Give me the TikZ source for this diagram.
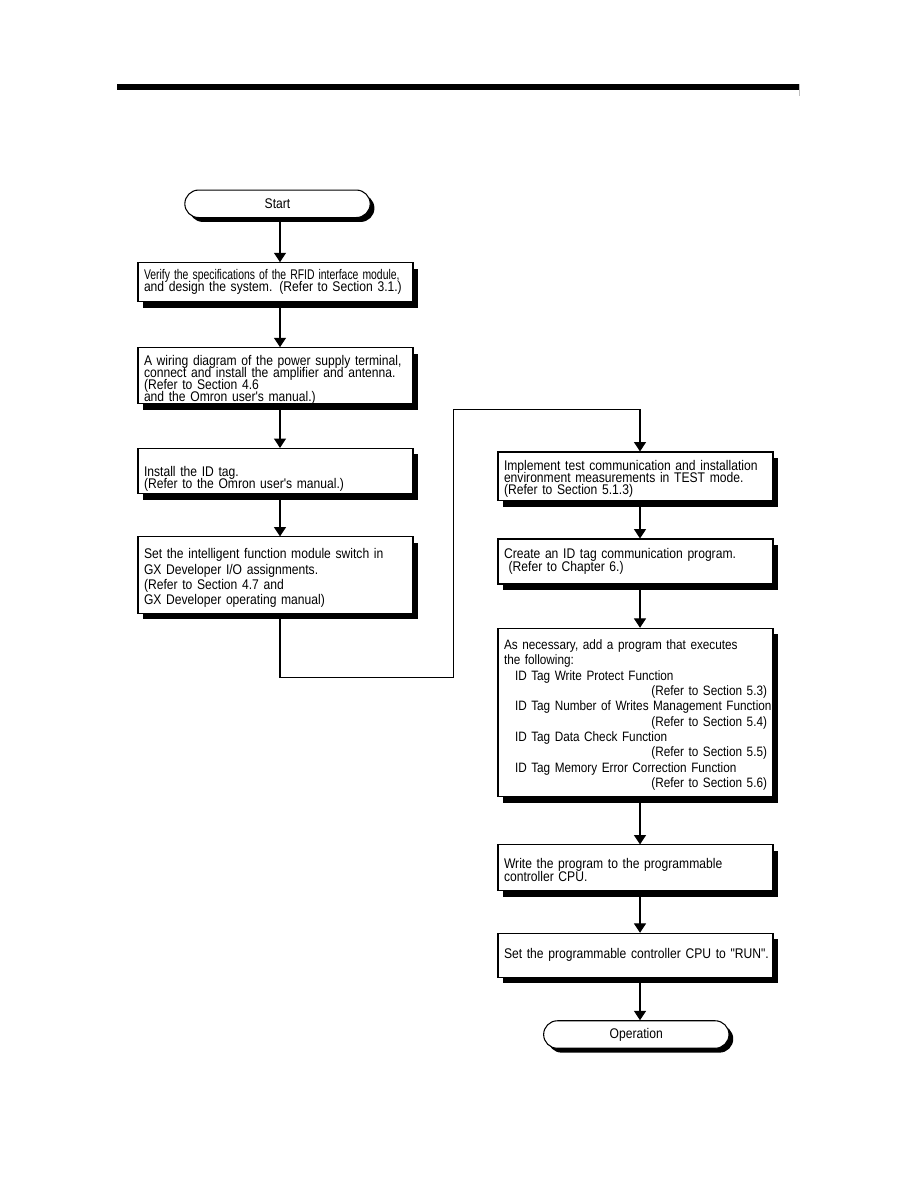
\documentclass[tikz,border=0pt]{standalone}
\usepackage{fontspec}
\setmainfont{Liberation Sans}[FakeStretch=0.865,Ligatures=TeXOff]
\usepackage{graphicx}
\usetikzlibrary{arrows.meta,shapes.misc,shadows}
\newcommand\tightlines{\lineskiplimit=-20pt\lineskip=0pt\relax}
\begin{document}
\begin{tikzpicture}[x=0.75pt,y=-0.75pt,
  box/.style={draw, fill=white, line width=0.8pt, rectangle, inner xsep=4.5pt, inner ysep=0pt,
    text width=197.25pt, align=left, minimum height=#1,
    execute at begin node=\tightlines,
    drop shadow={shadow xshift=3.75pt,shadow yshift=-4.5pt,opacity=1,fill=black}},
  term/.style={draw, fill=white, line width=0.8pt, rounded rectangle, minimum width=139pt,
    minimum height=20.6pt, inner sep=0pt, font=\fontsize{10.5}{12}\selectfont,
    drop shadow={shadow xshift=3.2pt,shadow yshift=-3.3pt,opacity=1,fill=black}},
  arr/.style={line width=0.8pt, -{Triangle[width=9pt,length=7pt]}},
  link/.style={line width=0.8pt}
]
\path[use as bounding box] (0,0) rectangle (918,1188);

% header bar
\fill[black] (117,84) rectangle (799,90);
\draw[gray!50, line width=0.8pt] (799.5,84) -- (799.5,96);

\coordinate (colL) at (280,0);
\coordinate (colR) at (640,0);

% terminals
\node[term] (start) at (277.5,203.8) {Start};
\node[term] (op) at (636.3,1034.5) {Operation};

% left column
\node[box=29.25pt, font=\fontsize{10.5}{9.2}\selectfont] (b1) at (275.5,282.2)
  {\scalebox{0.86}[1]{Verify the specifications of the RFID interface module,}\\
   \mbox{and design the system. (Refer to Section 3.1.)}};
\node[box=41.25pt, font=\fontsize{10.5}{9}\selectfont] (b2) at (275.5,375.8)
  {\rule{0pt}{13pt}\mbox{A wiring diagram of the power supply terminal,}\\
   \mbox{connect and install the amplifier and antenna.}\\
   (Refer to Section 4.6\\
   and the Omron user's manual.)};
\node[box=34.1pt, font=\fontsize{10.5}{9}\selectfont] (b3) at (275.5,471.2)
  {\rule{0pt}{18.5pt}Install the ID tag.\\
   (Refer to the Omron user's manual.)};
\node[box=57.4pt, font=\fontsize{10.5}{11.4}\selectfont] (b4) at (275.5,575.2)
  {\rule{0pt}{12pt}\mbox{Set the intelligent function module switch in}\\
   GX Developer I/O assignments.\\
   (Refer to Section 4.7 and\\
   GX Developer operating manual)};

% right column
\node[box=36.5pt, font=\fontsize{10.5}{9.2}\selectfont] (b5) at (635.5,476.3)
  {\rule{0pt}{11.5pt}\mbox{Implement test communication and installation}\\
   \mbox{environment measurements in TEST mode.}\\
   (Refer to Section 5.1.3)};
\node[box=33.75pt, font=\fontsize{10.5}{9.4}\selectfont] (b6) at (635.5,561.5)
  {Create an ID tag communication program.\\
   \mbox{\ (Refer to Chapter 6.)}};
\node[box=126.3pt, font=\fontsize{10.2}{11.5}\selectfont] (b7) at (635.5,712.5)
  {\rule{0pt}{11pt}\mbox{As necessary, add a program that executes}\\
   the following:\\
   \hspace*{8.25pt}\mbox{ID Tag Write Protect Function}\\
   \makebox[\linewidth][r]{(Refer to Section 5.3)}\\
   \hspace*{8.25pt}\mbox{ID Tag Number of Writes Management Function}\\
   \makebox[\linewidth][r]{(Refer to Section 5.4)}\\
   \hspace*{8.25pt}\mbox{ID Tag Data Check Function}\\
   \makebox[\linewidth][r]{(Refer to Section 5.5)}\\
   \hspace*{8.25pt}\mbox{ID Tag Memory Error Correction Function}\\
   \makebox[\linewidth][r]{(Refer to Section 5.6)}};
\node[box=34.3pt, font=\fontsize{10.5}{9.2}\selectfont] (b8) at (635.5,867.8)
  {\rule{0pt}{11pt}\mbox{Write the program to the programmable}\\
   controller CPU.};
\node[box=33pt, font=\fontsize{10.5}{9.2}\selectfont] (b9) at (635.5,955.3)
  {\mbox{Set the programmable controller CPU to "RUN".}};

% connectors
\coordinate (j1) at (280,677.3);
\coordinate (j2) at (453.3,677.3);
\coordinate (j3) at (453.3,409.3);
\coordinate (j4) at (640,409.3);

\draw[arr] (start.south -| colL) -- (b1.north -| colL);
\draw[arr] (b1.south -| colL) -- (b2.north -| colL);
\draw[arr] (b2.south -| colL) -- (b3.north -| colL);
\draw[arr] (b3.south -| colL) -- (b4.north -| colL);
\draw[arr] (b4.south -| colL) -- (j1) -- (j2) -- (j3) -- (j4) -- (b5.north -| colR);
\draw[arr] (b5.south -| colR) -- (b6.north -| colR);
\draw[arr] (b6.south -| colR) -- (b7.north -| colR);
\draw[arr] (b7.south -| colR) -- (b8.north -| colR);
\draw[arr] (b8.south -| colR) -- (b9.north -| colR);
\draw[arr] (b9.south -| colR) -- (op.north -| colR);
\end{tikzpicture}
\end{document}
